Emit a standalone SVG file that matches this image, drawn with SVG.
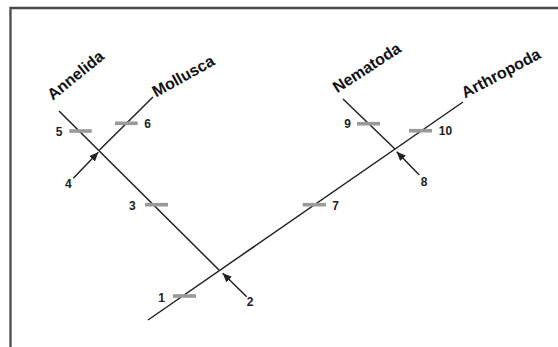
<svg xmlns="http://www.w3.org/2000/svg" width="558" height="347" viewBox="0 0 558 347">
<style>
.frame{fill:none;stroke:#4a4a4a;stroke-width:2.3}
.br{fill:none;stroke:#222;stroke-width:1.5;stroke-linecap:butt}
.bar{fill:#9a9a9a}
.arr{fill:none;stroke:#222;stroke-width:1.5}
.taxon{font-family:"Liberation Sans",Arial,sans-serif;font-weight:bold;font-size:16px;fill:#111}
.num{font-family:"Liberation Sans",Arial,sans-serif;font-weight:bold;font-size:12px;fill:#222;text-anchor:middle}
</style>
<defs>
<marker id="ah" markerUnits="userSpaceOnUse" markerWidth="10" markerHeight="8" refX="9" refY="4" orient="auto">
<path d="M0,0 L9,4 L0,8 Z" fill="#222"/>
</marker>
</defs>
<rect width="558" height="347" fill="#fff"/>
<path class="frame" d="M10.5,347 V8 H558"/>
<g id="connectors">
<line class="br" x1="59" y1="111" x2="219" y2="270"/>
<line class="br" x1="99.5" y1="150" x2="153" y2="97"/>
<line class="br" x1="148" y1="320" x2="463" y2="102"/>
<line class="br" x1="343" y1="99" x2="395" y2="149"/>
<line class="arr" x1="73.3" y1="178.3" x2="98.3" y2="152.3" marker-end="url(#ah)"/>
<line class="arr" x1="246.7" y1="296.7" x2="222.7" y2="273.3" marker-end="url(#ah)"/>
<line class="arr" x1="419.3" y1="175" x2="396.7" y2="151.7" marker-end="url(#ah)"/>
</g>
<g id="annelida"><text class="taxon" transform="translate(52.7,100.7) rotate(-39)">Annelida</text></g>
<g id="mollusca"><text class="taxon" transform="translate(156,97.5) rotate(-29)">Mollusca</text></g>
<g id="nematoda"><text class="taxon" transform="translate(337.3,93.3) rotate(-33)">Nematoda</text></g>
<g id="arthropoda"><text class="taxon" transform="translate(465,98.5) rotate(-28)">Arthropoda</text></g>
<g id="char1"><rect class="bar" x="173" y="294.2" width="23" height="3.6"/><text class="num" x="161.7" y="301.5">1</text></g>
<g id="node2"><text class="num" x="250" y="306">2</text></g>
<g id="char3"><rect class="bar" x="145" y="202.9" width="23" height="3.6"/><text class="num" x="132.3" y="209.5">3</text></g>
<g id="node4"><text class="num" x="68.3" y="188">4</text></g>
<g id="char5"><rect class="bar" x="69.3" y="129.2" width="22.5" height="3.6"/><text class="num" x="59" y="136">5</text></g>
<g id="char6"><rect class="bar" x="115" y="121.5" width="22.7" height="3.6"/><text class="num" x="147.5" y="128.3">6</text></g>
<g id="char7"><rect class="bar" x="302.7" y="202.9" width="23.3" height="3.6"/><text class="num" x="335.5" y="209.5">7</text></g>
<g id="node8"><text class="num" x="424" y="186">8</text></g>
<g id="char9"><rect class="bar" x="357" y="121.9" width="23" height="3.6"/><text class="num" x="347.7" y="128.3">9</text></g>
<g id="char10"><rect class="bar" x="409" y="128.9" width="23" height="3.6"/><text class="num" x="445.5" y="135.3">10</text></g>
</svg>
